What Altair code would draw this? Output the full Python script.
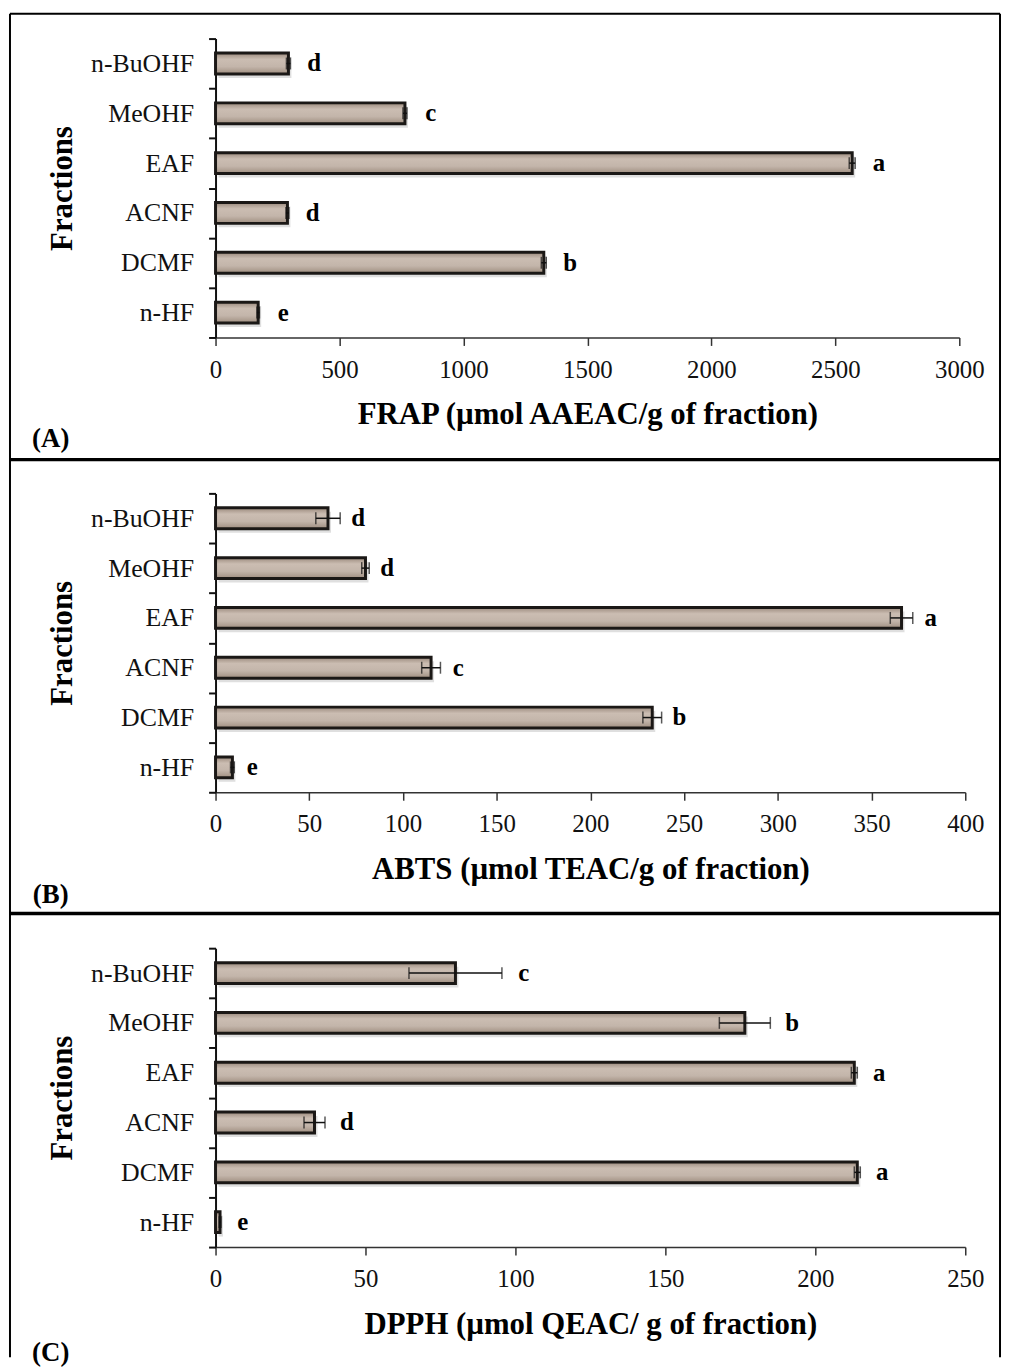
import altair as alt
import pandas as pd

fractions = ["n-BuOHF", "MeOHF", "EAF", "ACNF", "DCMF", "n-HF"]

frap_values = [294, 764, 2568, 290, 1324, 172]
frap_errors = [8, 8, 12, 6, 10, 5]
frap_letters = ["d", "c", "a", "d", "b", "e"]

abts_values = [60, 80, 366, 115, 233, 9]
abts_errors = [6.5, 2, 6, 5, 5, 1]
abts_letters = ["d", "d", "a", "c", "b", "e"]

dpph_values = [80, 176.5, 213, 33, 214, 1.5]
dpph_errors = [15.5, 8.5, 1, 3.5, 1, 0.3]
dpph_letters = ["c", "b", "a", "d", "a", "e"]

FONT = "Liberation Serif"

bar_fill = alt.Gradient(
    gradient="linear", x1=0, y1=0, x2=0, y2=1,
    stops=[
        alt.GradientStop(color="#9a897c", offset=0),
        alt.GradientStop(color="#cbbdb2", offset=0.3),
        alt.GradientStop(color="#c3b5aa", offset=0.65),
        alt.GradientStop(color="#9f8e80", offset=1),
    ],
)


def panel(values, errors, letters, title, xmax, step, width, tag, tag_y, dx, frame=False):
    df = pd.DataFrame({"fraction": fractions, "value": values, "err": errors, "letter": letters})
    df["lo"] = df["value"] - df["err"]
    df["hi"] = df["value"] + df["err"]

    xscale = alt.Scale(domain=[0, xmax], nice=False, zero=True)
    xaxis = alt.Axis(
        title=title, values=list(range(0, xmax + 1, step)), format="d", grid=False,
        labelFlush=False, labelFontSize=25, labelPadding=12, tickSize=8,
        titleFontSize=31, titlePadding=18, domainWidth=1.5, tickWidth=1.5,
        domainColor="#333333", tickColor="#333333",
    )
    yenc = alt.Y(
        "fraction:N", sort=fractions,
        scale=alt.Scale(paddingInner=0, paddingOuter=0),
        axis=alt.Axis(
            title="Fractions", tickBand="extent", labelFontSize=26, labelPadding=15,
            tickSize=7, tickWidth=2, domainWidth=2, titleFontSize=31, titlePadding=12,
            domainColor="#111111", tickColor="#111111",
        ),
    )

    base = alt.Chart(df)
    shadow = base.mark_bar(height=21, xOffset=3, yOffset=4, color="#d2d2d2", opacity=0.7).encode(
        x=alt.X("value:Q", scale=xscale, axis=xaxis), y=yenc
    )
    bars = base.mark_bar(height=21, fill=bar_fill, stroke="#1b1816", strokeWidth=3).encode(
        x=alt.X("value:Q", scale=xscale, axis=xaxis), y=yenc
    )
    rule = base.mark_rule(color="#111111", strokeWidth=1.5).encode(
        x=alt.X("lo:Q", scale=xscale, axis=xaxis), x2="hi:Q", y=yenc
    )
    cap_lo = base.mark_tick(color="#111111", thickness=1.5, size=12).encode(
        x=alt.X("lo:Q", scale=xscale, axis=xaxis), y=yenc
    )
    cap_hi = base.mark_tick(color="#111111", thickness=1.5, size=12).encode(
        x=alt.X("hi:Q", scale=xscale, axis=xaxis), y=yenc
    )
    text = base.mark_text(
        font=FONT, fontSize=25, fontWeight="bold", color="#000000",
        align="center", baseline="middle", dx=dx,
    ).encode(x=alt.X("hi:Q", scale=xscale, axis=xaxis), y=yenc, text="letter:N")

    tag_df = pd.DataFrame({"t": [tag]})
    tag_text = alt.Chart(tag_df).mark_text(
        font=FONT, fontSize=27, fontWeight="bold", color="#000000",
        align="center", baseline="middle",
    ).encode(text="t:N", x=alt.value(-166), y=alt.value(tag_y))

    layers = [shadow, bars, rule, cap_lo, cap_hi, text, tag_text]

    if frame:
        one = pd.DataFrame({"k": [0]})
        top = alt.Chart(one).mark_rule(color="#000000", strokeWidth=2).encode(
            x=alt.value(-207), x2=alt.value(790), y=alt.value(-25))
        left = alt.Chart(one).mark_rule(color="#000000", strokeWidth=2).encode(
            x=alt.value(-207), y=alt.value(-25), y2=alt.value(1328))
        right = alt.Chart(one).mark_rule(color="#000000", strokeWidth=2).encode(
            x=alt.value(790), y=alt.value(-25), y2=alt.value(1328))
        sep1 = alt.Chart(one).mark_rule(color="#000000", strokeWidth=3.5).encode(
            x=alt.value(-207), x2=alt.value(790), y=alt.value(424))
        sep2 = alt.Chart(one).mark_rule(color="#000000", strokeWidth=3.5).encode(
            x=alt.value(-207), x2=alt.value(790), y=alt.value(881))
        layers = [top, left, right, sep1, sep2] + layers

    return alt.layer(*layers).properties(width=width, height=301)


pa = panel(frap_values, frap_errors, frap_letters, "FRAP (µmol AAEAC/g of fraction)",
           3000, 500, 749, "(A)", 403, 24, frame=True)
pb = panel(abts_values, abts_errors, abts_letters, "ABTS (µmol TEAC/g  of fraction)",
           400, 50, 755, "(B)", 405, 18)
pc = panel(dpph_values, dpph_errors, dpph_letters, "DPPH (µmol QEAC/ g of fraction)",
           250, 50, 755, "(C)", 408, 22)

chart = alt.vconcat(pa, pb, pc, spacing=157, bounds="flush").properties(
    padding=0, background="#ffffff"
).configure_view(stroke=None).configure_axis(
    labelFont=FONT, titleFont=FONT, labelColor="#111111", titleColor="#000000",
    titleFontWeight="bold",
)

chart.save("out.html", embed_options={"renderer": "svg", "actions": False})
